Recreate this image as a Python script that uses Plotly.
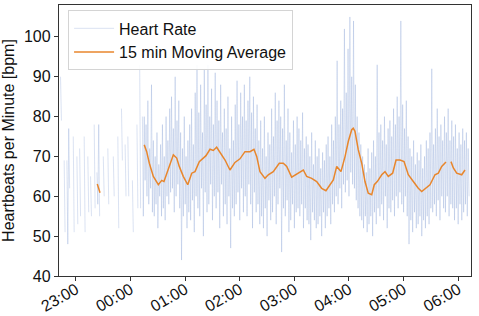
import pandas as pd
import plotly.graph_objects as go

start = pd.Timestamp("2021-03-01 22:42")

# Heart rate, one value per minute starting 22:42 (None = no data)
hr_sparse = [None, 90, 79, None, None, 69, 51, None, 69, 48,
             77, 62, None, None, None, 75, 51, None, None, 70,
             53, None, 72, 55, None, None, None, 75, 51, None,
             None, 70, 56, None, 65, 55, None, None, 78, 57,
             None, 66, 58, 78, 55, None, None, None, 70, 60,
             None, None, None, 72, 58, None, None, None, None, 70,
             60, None, None, None, 75, 52, None, None, 82, 69,
             None, None, 73, 60, None, 75, 60, None, None, None,
             64, 51, None, None, None, 78, 57, None, 93, 57,
             None, 80, 55]
hr_dense = [80, 64, 78, 60, 84, 58, 72, 62, 88, 56,
            74, 55, 70, 58, 76, 52, 68, 60, 73, 55,
            78, 57, 70, 54, 80, 60, 74, 58, 82, 61,
            85, 62, 77, 56, 90, 60, 79, 63, 84, 57,
            76, 44, 72, 55, 80, 58, 70, 52, 74, 56,
            78, 54, 82, 59, 73, 51, 86, 60, 93, 57,
            81, 55, 88, 62, 76, 50, 92, 61, 83, 56,
            93, 58, 80, 63, 87, 54, 78, 60, 91, 57,
            84, 61, 79, 52, 88, 63, 76, 55, 82, 58,
            77, 53, 85, 60, 72, 47, 80, 57, 74, 55,
            83, 58, 89, 61, 78, 54, 86, 62, 80, 56,
            88, 60, 79, 55, 84, 63, 90, 58, 81, 52,
            85, 61, 77, 56, 83, 58, 74, 53, 79, 55,
            72, 52, 80, 57, 70, 50, 76, 59, 73, 54,
            82, 56, 75, 60, 86, 53, 79, 58, 84, 62,
            80, 46, 77, 57, 88, 55, 74, 59, 82, 51,
            76, 54, 71, 58, 79, 52, 73, 56, 80, 57,
            77, 55, 74, 58, 81, 52, 72, 57, 75, 54,
            73, 53, 70, 49, 76, 56, 68, 54, 74, 52,
            70, 53, 72, 55, 67, 50, 71, 56, 69, 52,
            73, 55, 75, 57, 70, 53, 78, 58, 74, 56,
            80, 60, 94, 58, 78, 62, 84, 57, 82, 63,
            102, 61, 86, 64, 97, 60, 105, 66, 90, 63,
            104, 62, 88, 59, 80, 57, 76, 55, 73, 54,
            70, 52, 68, 55, 66, 51, 72, 53, 67, 55,
            71, 50, 74, 56, 70, 53, 93, 57, 76, 55,
            78, 58, 74, 54, 80, 60, 73, 52, 77, 57,
            79, 56, 75, 59, 82, 55, 78, 60, 85, 57,
            80, 61, 104, 58, 83, 56, 77, 60, 84, 55,
            75, 48, 72, 54, 70, 51, 74, 56, 68, 52,
            71, 53, 69, 55, 73, 50, 67, 54, 70, 52,
            74, 55, 72, 53, 76, 57, 92, 56, 73, 58,
            77, 55, 82, 59, 75, 54, 78, 60, 74, 57,
            80, 56, 76, 60, 82, 55, 74, 58, 79, 57,
            75, 54, 78, 57, 72, 53, 76, 58, 73, 54,
            77, 56, 74, 58, 76, 55, 72, 60]
hr_values = hr_sparse + hr_dense

# 15 min moving average (minutes after 22:42, value); None = gap
ma_minutes = [41.4, 43.0, 44.4, 44.5,
              93, 95.7, 98.6, 103, 108.5, 112.2, 114.7, 119.5, 125, 128.7,
              131.5, 135.9, 140.8, 145.2, 148.8, 153.5, 157.9, 160.9, 165.3,
              168.9, 172.6, 176.3, 181.8, 187.2, 192.7, 198.2, 203.7, 209.2,
              213.6, 216.6, 220.2, 225.7, 229.3, 234.8, 241.4, 245.8, 249.6,
              255, 260.5, 264.2, 267.8, 271.5, 277, 282.5, 288, 292.7, 297.1,
              300.8, 304.5, 309.2, 313.6, 317.3, 321, 322.7, 324.6, 328.2,
              332, 335.6, 339.2, 343, 345.8, 349.1, 354, 357.6, 361.2, 366,
              369.7, 374.1, 378.5, 383.2, 388.7, 394.2, 397.9, 402.6, 407,
              412.5, 416.2, 419.9, 424.6, 424.7,
              430.1, 432.7, 436.4, 441.9, 445.5]
ma_values = [63.1, 62.0, 60.9, None,
             72.9, 71.2, 68.3, 65.0, 62.9, 64.0, 63.7, 66.6, 70.4, 69.6,
             67.5, 65.0, 62.9, 65.8, 66.2, 68.7, 69.6, 70.2, 71.8,
             71.5, 72.3, 71.0, 69.1, 66.6, 68.5, 69.4, 71.2, 71.2,
             71.8, 70.0, 66.2, 64.5, 65.4, 66.2, 68.3, 68.3, 67.5,
             64.8, 65.6, 66.2, 66.6, 65.0, 64.5, 63.7, 62.0, 61.4, 62.9,
             64.1, 67.5, 66.2, 69.9, 73.8, 76.7, 77.1, 76.3, 71.7,
             68.3, 63.7, 60.8, 60.4, 62.9, 63.7, 65.4, 66.2, 65.0, 65.8,
             69.1, 69.1, 68.7, 65.4, 63.7, 62.0, 61.2, 62.0, 62.9,
             65.4, 65.8, 67.5, 68.6, None,
             68.7, 67.1, 65.8, 65.4, 66.6]

tick_labels = ["23:00", "00:00", "01:00", "02:00", "03:00", "04:00", "05:00", "06:00"]

hr_time = [start + pd.Timedelta(minutes=i) for i in range(len(hr_values))]
ma_time = [start + pd.Timedelta(minutes=m) for m in ma_minutes]
tick_vals = [pd.Timestamp("2021-03-01 23:00") + pd.Timedelta(hours=i) for i in range(len(tick_labels))]

font_family = "Liberation Sans, Arial, sans-serif"

fig = go.Figure()
fig.add_trace(go.Scatter(
    x=hr_time, y=hr_values, mode="lines", name="Heart Rate",
    line=dict(color="rgba(125,155,210,0.32)", width=0.9),
    connectgaps=False, legendgroup="a"))
fig.add_trace(go.Scatter(
    x=ma_time, y=ma_values, mode="lines", name="15 min Moving Average",
    line=dict(color="#e8862c", width=1.5),
    connectgaps=False, legendgroup="b"))

fig.update_layout(
    width=479, height=316,
    margin=dict(l=59, r=8, t=5, b=40),
    paper_bgcolor="white", plot_bgcolor="white",
    font=dict(family=font_family, size=16, color="#111"),
    legend=dict(x=0.022, y=0.98, xanchor="left", yanchor="top",
                bgcolor="rgba(255,255,255,0.9)", bordercolor="#d4d4d4", borderwidth=1,
                font=dict(size=16), tracegroupgap=0, itemwidth=40),
    showlegend=True,
)
fig.update_xaxes(
    range=[pd.Timestamp("2021-03-01 22:41:20"), pd.Timestamp("2021-03-02 06:14:06")],
    tickvals=tick_vals, ticktext=tick_labels, tickangle=-30,
    ticks="outside", ticklen=4, tickcolor="#333", automargin=False,
    ticklabelstandoff=-7,
    showline=True, linecolor="#333", linewidth=1.3, mirror=True,
    showgrid=False, zeroline=False, tickfont=dict(size=16))
fig.update_yaxes(
    range=[40, 108], tickvals=[40, 50, 60, 70, 80, 90, 100],
    ticks="outside", ticklen=4, tickcolor="#333", automargin=False,
    showline=True, linecolor="#333", linewidth=1.3, mirror=True,
    showgrid=False, zeroline=False, tickfont=dict(size=16),
    title=dict(text="Heartbeats per Minute [bpm]", font=dict(size=16), standoff=6))

fig.write_html("out.html", config={"displayModeBar": False},
               post_script="document.body.style.margin='0px';")
